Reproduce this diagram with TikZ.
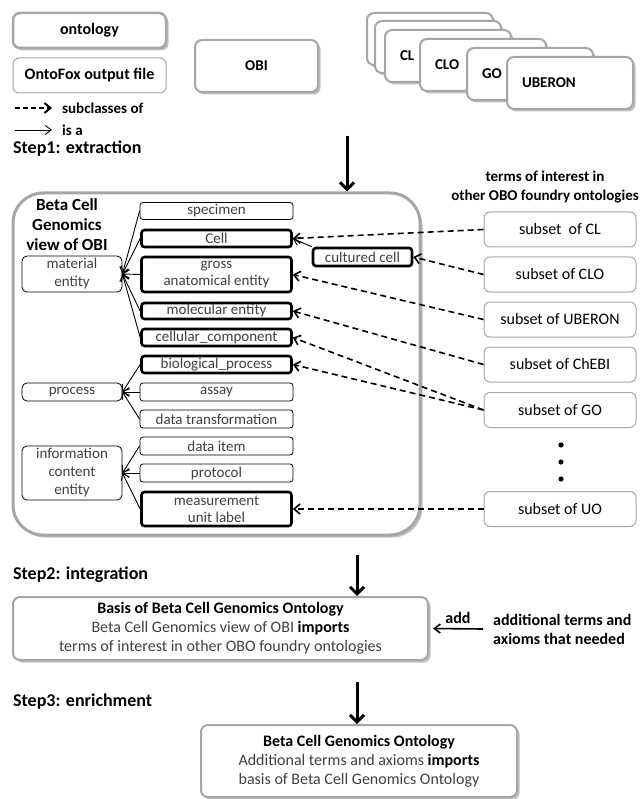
\documentclass[tikz,border=0pt]{standalone}
\usepackage{fontspec}
\setmainfont{Carlito}
\usetikzlibrary{arrows.meta,shadows}
\definecolor{bordgray}{HTML}{A6A6A6}
\definecolor{txtgray}{HTML}{404040}
\newcommand\fsz[2]{\fontsize{#1}{#2}\selectfont}
\begin{document}
\begin{tikzpicture}[x=1pt,y=-1pt,
  shadowed/.style={drop shadow={shadow xshift=2.5pt,shadow yshift=-2.5pt,opacity=0.45,fill=black!55}},
  graybox/.style={draw=bordgray,line width=2pt,rounded corners=7pt,fill=white,shadowed,inner sep=0pt},
  legbox/.style={draw=bordgray,line width=1pt,rounded corners=6pt,fill=white,inner sep=0pt},
  stackbox/.style={graybox,minimum width=126pt,minimum height=52pt,text width=96pt,inner xsep=15pt,align=left,font=\bfseries\fsz{15}{18}},
  termthin/.style={draw=black,line width=0.8pt,rounded corners=3pt,minimum width=153pt,text=txtgray,font=\fsz{15}{17},inner sep=0pt,align=center,fill=white},
  termthick/.style={termthin,line width=2.6pt,minimum width=150pt},
  parentbox/.style={draw=black,line width=0.8pt,rounded corners=5pt,minimum width=100pt,text=txtgray,font=\fsz{15}{18},inner sep=0pt,align=center},
  subsetbox/.style={legbox,minimum width=152pt,minimum height=35pt,font=\fsz{16}{19}},
  isa/.style={line width=0.9pt,-{Straight Barb[length=6pt,width=9pt]}},
  subcl/.style={line width=1.6pt,dash pattern=on 6pt off 4pt,-{Straight Barb[length=6pt,width=10pt]}},
  bigarrow/.style={line width=3pt,-{Straight Barb[length=7pt,width=14pt]}},
  steplabel/.style={font=\bfseries\fsz{18}{21},anchor=west,inner sep=0pt}
]
\useasboundingbox (0,0) rectangle (639,799);

% legend
\node[graybox,line width=2.5pt,minimum width=153pt,minimum height=35pt,font=\bfseries\fsz{16}{19}] (onto) at (89.5,30.5) {ontology};
\node[legbox,minimum width=153pt,minimum height=35pt,font=\bfseries\fsz{16}{19}] (ontofox) at (89.5,75.5) {OntoFox output file};
\coordinate (ld1) at (15,108);
\coordinate (ld2) at (52,108);
\draw[subcl,line width=2pt,dash pattern=on 5pt off 3pt] (ld1) -- (ld2);
\node[anchor=west,inner sep=0pt,font=\bfseries\fsz{15}{18}] (lsub) at (62,108) {subclasses of};
\coordinate (ls1) at (15,130);
\coordinate (ls2) at (52,130);
\draw[isa] (ls1) -- (ls2);
\node[anchor=west,inner sep=0pt,font=\bfseries\fsz{15}{18}] (lisa) at (62,130) {is a};
\node[steplabel] (step1) at (13,149) {Step1: extraction};

% OBI
\node[graybox,minimum width=123pt,minimum height=52pt,font=\bfseries\fsz{15}{18}] (obi) at (256.5,66) {OBI};

% stacked ontologies
\node[stackbox] (b1) at (430,39) {};
\node[stackbox] (b2) at (438,47) {};
\node[stackbox] (cl) at (448,56) {CL};
\node[stackbox] (clo) at (483,65) {CLO};
\node[stackbox] (go) at (530,74) {GO};
\node[stackbox] (uberon) at (570,83) {UBERON};

% step1 arrow
\coordinate (a1) at (347,136);

% big view box
\node[draw=bordgray,line width=3pt,rounded corners=30pt,fill=white,shadowed,minimum width=407pt,minimum height=342pt,inner sep=0pt] (view) at (216.5,364) {};
\draw[bigarrow] (a1) -- (view.north -| a1);
\node[align=center,inner sep=0pt,font=\bfseries\fsz{17}{20}] (vtitle) at (67,225) {Beta Cell\\Genomics\\view of OBI};

% parents
\node[parentbox,minimum height=36pt] (mat) at (72,274) {material\\entity};
\node[parentbox,minimum height=18pt] (proc) at (72,392) {process};
\node[parentbox,minimum height=54pt] (ice) at (72,473) {information\\content\\entity};

% terms
\node[termthin,minimum height=17pt] (spec) at (216.5,211) {specimen};
\node[termthick,minimum height=17pt] (cell) at (216.5,238.5) {Cell};
\node[termthick,minimum height=35pt] (gross) at (216.5,274.5) {gross\\anatomical entity};
\node[termthick,minimum height=16pt] (mol) at (216.5,311) {molecular entity};
\node[termthick,minimum height=17pt] (cellc) at (216.5,337.5) {cellular\_component};
\node[termthick,minimum height=17pt] (bio) at (216.5,364.5) {biological\_process};
\node[termthin,minimum height=18pt] (assay) at (216.5,392) {assay};
\node[termthin,minimum height=18pt] (dtrans) at (216.5,419) {data transformation};
\node[termthin,minimum height=18pt] (ditem) at (216.5,446) {data item};
\node[termthin,minimum height=18pt] (prot) at (216.5,473) {protocol};
\node[termthick,minimum height=34pt] (mul) at (216.5,509) {measurement\\unit label};
\node[termthick,minimum width=99pt,minimum height=18pt] (cult) at (362.5,257) {cultured cell};

% is-a connectors
\foreach \c in {spec,cell,gross,mol,cellc} \draw[isa] (\c.west) -- (mat.east);
\foreach \c in {bio,assay,dtrans} \draw[isa] (\c.west) -- (proc.east);
\foreach \c in {ditem,prot,mul} \draw[isa] (\c.west) -- (ice.east);
\draw[isa] (cult.north west) -- (cell.east);

% header right
\node[align=center,inner sep=0pt,font=\bfseries\fsz{15}{19}] (hdr) at (545,187.5) {terms of interest in\\other OBO foundry ontologies};

% subsets
\node[subsetbox] (scl) at (560,229.5) {subset\ \ of CL};
\node[subsetbox] (sclo) at (560,274.5) {subset of CLO};
\node[subsetbox] (sub) at (560,319.5) {subset of UBERON};
\node[subsetbox] (sche) at (560,364.5) {subset of ChEBI};
\node[subsetbox] (sgo) at (560,410) {subset of GO};
\node[subsetbox] (suo) at (560,509) {subset of UO};
\foreach \yy in {445,462,479} \fill (561,\yy) circle (2.6pt);

\draw[subcl] (scl.west) -- (cell.east);
\draw[subcl] (sclo.west) -- (cult.east);
\draw[subcl] (sub.west) -- (gross.east);
\draw[subcl] (sche.west) -- (mol.east);
\draw[subcl] (sgo.west) -- (cellc.east);
\draw[subcl] (sgo.west) -- (bio.east);
\draw[subcl] (suo.west) -- (mul.east);

% step 2
\node[steplabel] (step2) at (13,575) {Step2: integration};
\coordinate (a2) at (357,555);
\node[graybox,minimum width=415pt,minimum height=63pt,align=center,text=txtgray,font=\fsz{16}{19}] (basis) at (220.5,628.5)
  {{\color{black}\bfseries Basis of Beta Cell Genomics Ontology}\\Beta Cell Genomics view of OBI {\color{black}\bfseries imports}\\terms of interest in other OBO foundry ontologies};
\draw[bigarrow] (a2) -- (basis.north -| a2);
\coordinate (addst) at (483,629);
\draw[isa,line width=1.6pt] (addst) -- ([xshift=4pt]basis.east);
\node[inner sep=0pt,font=\bfseries\fsz{16}{19}] (addl) at (458,618) {add};
\node[anchor=west,align=left,inner sep=0pt,font=\bfseries\fsz{16}{19}] (addt) at (493,629.5) {additional terms and\\axioms that needed};

% step 3
\node[steplabel] (step3) at (13,702) {Step3: enrichment};
\coordinate (a3) at (357,682);
\node[graybox,minimum width=316pt,minimum height=72pt,align=center,text=txtgray,font=\fsz{16}{19}] (final) at (359,761)
  {{\color{black}\bfseries Beta Cell Genomics Ontology}\\Additional terms and axioms {\color{black}\bfseries imports}\\basis of Beta Cell Genomics Ontology};
\draw[bigarrow] (a3) -- (final.north -| a3);
\end{tikzpicture}
\end{document}
